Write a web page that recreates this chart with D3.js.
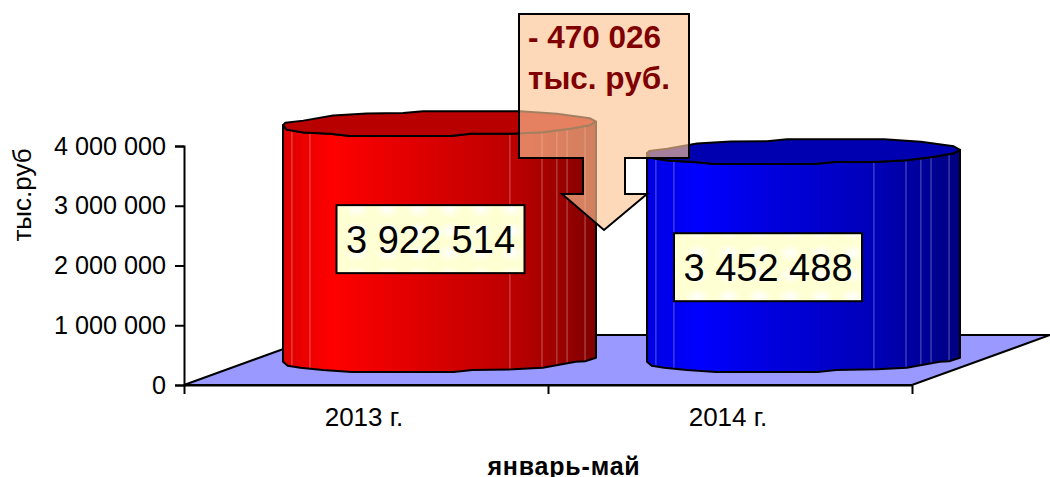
<!DOCTYPE html>
<html>
<head>
<meta charset="utf-8">
<script src="https://cdn.jsdelivr.net/npm/d3@7"></script>
<style>
  html, body { margin: 0; padding: 0; background: #fff; overflow: hidden; }
  text { font-family: "Liberation Sans", Arial, sans-serif; fill: #000; }
  .domain, .tick line { stroke: #000; stroke-width: 2px; }
</style>
</head>
<body>
<div id="chart"></div>
<script>
const categories = ['2013 г.', '2014 г.'];
const values = [3922514, 3452488];
const yTicks = [0, 1000000, 2000000, 3000000, 4000000];

const yTitle = 'тыс.руб';
const xTitle = 'январь-май';
const calloutUnit = 'тыс. руб.';

// cylinder outline in unit coords (u along rx, v along ry), faceted like the original
const rimBack = [[-1, .13], [-.985, -.07], [-.87, -.25], [-.68, -.68], [-.465, -.85], [-.233, -.88], [-.105, -1.03], [.515, -1.03], [.75, -.83], [.96, -.45], [1, -.16]];
const rimFront = [[-1, .13], [-.977, .5], [-.87, .74], [-.7, .85], [-.57, 1.03], [.07, 1.03], [.2, .85], [.45, .85], [.66, .71], [.835, .42], [.96, .13], [1, -.16]];
const baseFront = [[-1, .14], [-.97, .47], [-.89, .64], [-.745, .83], [-.56, 1], [.09, 1], [.21, .83], [.47, .78], [.66, .64], [.87, .14], [.93, .11], [1, -.19]];
const facetEdges = [-.943, -.828, .45, .655, .75, .815, .93];

const redStops = [[0, '#dc0000'], [.09, '#f00000'], [.16, '#ff0000'], [.35, '#e80000'], [.73, '#bc0000'], [.83, '#a80000'], [.95, '#8c0000'], [1, '#800000']];
const blueStops = [[0, '#0000e0'], [.09, '#0000f0'], [.16, '#0000ff'], [.35, '#0000e4'], [.73, '#0000b8'], [.83, '#0000a4'], [.95, '#00008c'], [1, '#000080']];
const capColors = ['#b80000', '#0000b0'];

const width = 1050, height = 477;
const plot = { left: 184, right: 912, top: 146, bottom: 385 };
const depth = { x: 138, y: 50 };
const rx = 156.5, ry = 12;

const svg = d3.select('#chart').append('svg')
  .attr('width', width)
  .attr('height', height)
  .style('display', 'block');

const x = d3.scaleBand().domain(categories).range([plot.left, plot.right]);
const y = d3.scaleLinear().domain([0, 4000000]).range([plot.bottom, plot.top]);
const fmt = d3.formatLocale({ decimal: '.', thousands: ' ', grouping: [3], currency: ['', ''] }).format(',');

const defs = svg.append('defs');
[redStops, blueStops].forEach((stops, i) => {
  const g = defs.append('linearGradient').attr('id', 'side' + i);
  stops.forEach(s => g.append('stop').attr('offset', s[0]).attr('stop-color', s[1]));
});

// pale plaid texture of the data labels
const glow = defs.append('radialGradient').attr('id', 'glow');
glow.append('stop').attr('offset', 0).attr('stop-color', '#fff').attr('stop-opacity', .95);
glow.append('stop').attr('offset', 1).attr('stop-color', '#fff').attr('stop-opacity', 0);
const plaid = defs.append('pattern').attr('id', 'plaid')
  .attr('patternUnits', 'userSpaceOnUse')
  .attr('width', 31).attr('height', 22);
plaid.append('rect').attr('width', 31).attr('height', 22).attr('fill', '#ffffd4');
plaid.append('rect').attr('x', 3).attr('y', 2).attr('width', 25).attr('height', 18).attr('fill', 'url(#glow)');

// floor
const floor = [
  [plot.left, plot.bottom],
  [plot.right, plot.bottom],
  [plot.right + depth.x, plot.bottom - depth.y],
  [plot.left + depth.x, plot.bottom - depth.y]
];
svg.append('path')
  .attr('d', d3.line()(floor) + 'Z')
  .attr('fill', '#9999ff')
  .attr('stroke', '#000')
  .attr('stroke-width', 2);

// axes
svg.append('g')
  .attr('transform', `translate(${plot.left},0)`)
  .call(d3.axisLeft(y).tickValues(yTicks).tickSize(9).tickPadding(9).tickFormat(fmt))
  .call(g => g.selectAll('text').attr('font-size', 25.2).style('font-family', '"Liberation Sans", Arial, sans-serif'));

const xEdges = d3.scaleLinear().domain([0, categories.length]).range([plot.left, plot.right]);
svg.append('g')
  .attr('transform', `translate(0,${plot.bottom})`)
  .call(d3.axisBottom(xEdges).tickValues([0, 1, 2]).tickSize(9).tickSizeOuter(0).tickFormat(''));
svg.append('g')
  .attr('transform', `translate(-2,${plot.bottom})`)
  .call(d3.axisBottom(x).tickSize(0).tickPadding(23))
  .call(g => g.select('.domain').remove())
  .call(g => g.selectAll('text').attr('font-size', 26).style('font-family', '"Liberation Sans", Arial, sans-serif'));

svg.append('text')
  .attr('transform', 'translate(30.5,195) rotate(-90)')
  .attr('text-anchor', 'middle')
  .attr('font-size', 26)
  .text(yTitle);
svg.append('text')
  .attr('x', 564).attr('y', 475)
  .attr('text-anchor', 'middle')
  .attr('font-size', 25)
  .attr('font-weight', 'bold')
  .attr('letter-spacing', .8)
  .text(xTitle);

// cylinders
const line = d3.line();
categories.forEach((c, i) => {
  const cx = x(c) + x.bandwidth() / 2 + 73.5;
  const baseY = plot.bottom - 25;
  const topY = y(values[i]) - 27;
  const toPt = (cy) => p => [cx + p[0] * rx, cy + p[1] * ry];

  const front = rimFront.map(toPt(topY));
  const bottom = baseFront.map(toPt(baseY)).reverse();
  svg.append('path')
    .attr('d', line(front.concat(bottom)) + 'Z')
    .attr('fill', `url(#side${i})`)
    .attr('stroke', '#000')
    .attr('stroke-width', 2)
    .attr('stroke-linejoin', 'round');

  // facet seams
  const topV = d3.scaleLinear().domain(rimFront.map(p => p[0])).range(rimFront.map(p => p[1]));
  const botV = d3.scaleLinear().domain(baseFront.map(p => p[0])).range(baseFront.map(p => p[1]));
  svg.append('g').selectAll('line')
    .data(facetEdges)
    .join('line')
    .attr('x1', u => cx + u * rx)
    .attr('x2', u => cx + u * rx)
    .attr('y1', u => topY + topV(u) * ry + 1)
    .attr('y2', u => baseY + botV(u) * ry - 1)
    .attr('stroke', '#fff')
    .attr('stroke-opacity', .35)
    .attr('stroke-width', 1);

  const back = rimBack.map(toPt(topY));
  svg.append('path')
    .attr('d', line(back.concat(front.slice().reverse())) + 'Z')
    .attr('fill', capColors[i])
    .attr('stroke', '#000')
    .attr('stroke-width', 2)
    .attr('stroke-linejoin', 'round');
});

// data labels, dragged off-centre in the original
const labelShift = [64.5, 38];
categories.forEach((c, i) => {
  const lx = x(c) + x.bandwidth() / 2 + labelShift[i];
  const ly = y(values[i]) + 88.5;
  svg.append('rect')
    .attr('x', lx - 94).attr('y', ly - 34)
    .attr('width', 188).attr('height', 68)
    .attr('fill', 'url(#plaid)')
    .attr('stroke', '#000')
    .attr('stroke-width', 2);
  svg.append('text')
    .attr('x', lx).attr('y', ly + 14)
    .attr('text-anchor', 'middle')
    .attr('font-size', 38)
    .text(fmt(values[i]));
});

// down-arrow callout with the difference
const callout = [[519, 14], [689, 14], [689, 158], [625, 158], [625, 194], [647, 194], [604, 230], [562, 194], [583, 194], [583, 158], [519, 158]];
svg.append('path')
  .attr('d', line(callout) + 'Z')
  .attr('fill', '#fdc594')
  .attr('fill-opacity', .65)
  .attr('stroke', '#000')
  .attr('stroke-width', 2);
[`- ${fmt(values[0] - values[1])}`, calloutUnit].forEach((t, i) => {
  svg.append('text')
    .attr('x', 528).attr('y', 47.5 + i * 41)
    .attr('font-size', 31.5)
    .attr('font-weight', 'bold')
    .style('fill', '#800000')
    .text(t);
});
</script>
</body>
</html>
